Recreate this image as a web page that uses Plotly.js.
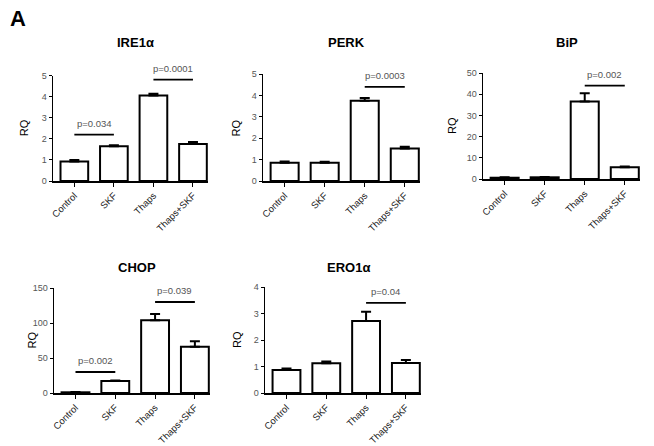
<!DOCTYPE html>
<html>
<head>
<meta charset="utf-8">
<script src="https://cdn.plot.ly/plotly-3.0.1.min.js"></script>
<style>html,body{margin:0;padding:0;background:#fff;}#chart{width:654px;height:446px;}</style>
</head>
<body>
<div id="chart"></div>
<script>
// ---- data ----
const categories = ['Control', 'SKF', 'Thaps', 'Thaps+SKF'];

const ire1aValues = [0.93, 1.65, 4.05, 1.75];
const ire1aErrors = [0.06, 0.05, 0.08, 0.10];

const perkValues = [0.85, 0.85, 3.75, 1.52];
const perkErrors = [0.06, 0.05, 0.13, 0.08];

const bipValues = [0.6, 0.8, 36.5, 5.5];
const bipErrors = [0.2, 0.2, 4.0, 0.4];

const chopValues = [1, 17, 104, 66];
const chopErrors = [0.5, 1, 9, 8];

const ero1aValues = [0.87, 1.12, 2.72, 1.13];
const ero1aErrors = [0.05, 0.07, 0.35, 0.12];

const panelTitles = ['IRE1\u03b1', 'PERK', 'BiP', 'CHOP', 'ERO1\u03b1'];
const yRanges = [[0, 5], [0, 5], [0, 50], [0, 150], [0, 4]];
const yTicks = [[0, 1, 2, 3, 4, 5], [0, 1, 2, 3, 4, 5], [0, 10, 20, 30, 40, 50], [0, 50, 100, 150], [0, 1, 2, 3, 4]];

// significance brackets
const sigPanels = [0, 0, 1, 2, 3, 3, 4];
const sigFrom = ['Control', 'Thaps', 'Thaps', 'Thaps', 'Control', 'Thaps', 'Thaps'];
const sigTo = ['SKF', 'Thaps+SKF', 'Thaps+SKF', 'Thaps+SKF', 'SKF', 'Thaps+SKF', 'Thaps+SKF'];
const sigY = [2.2, 4.8, 4.4, 44, 30, 130, 3.4];
const sigLabels = ['p=0.034', 'p=0.0001', 'p=0.0003', 'p=0.002', 'p=0.002', 'p=0.039', 'p=0.04'];

// ---- layout geometry (pixels) ----
const W = 654, H = 446;
const boxes = [
  {x0: 53, x1: 208, y0: 75.5, y1: 181},
  {x0: 263, x1: 420, y0: 74, y1: 181},
  {x0: 483, x1: 640, y0: 73, y1: 179},
  {x0: 54, x1: 210, y0: 288, y1: 393},
  {x0: 265, x1: 421, y0: 287, y1: 393}
];
const titleY = [42, 42, 42, 267, 267];
const rqX = [24, 235, 452, 31, 237];

const allValues = [ire1aValues, perkValues, bipValues, chopValues, ero1aValues];
const allErrors = [ire1aErrors, perkErrors, bipErrors, chopErrors, ero1aErrors];

const FONT = 'Liberation Sans, Arial, sans-serif';
const traces = [];
const layout = {
  width: W, height: H,
  margin: {l: 0, r: 0, t: 0, b: 0},
  paper_bgcolor: '#fff', plot_bgcolor: '#fff',
  showlegend: false,
  font: {family: FONT},
  annotations: [],
  shapes: []
};

allValues.forEach((vals, i) => {
  const n = i === 0 ? '' : String(i + 1);
  traces.push({
    type: 'bar',
    x: categories,
    y: vals,
    xaxis: 'x' + n,
    yaxis: 'y' + n,
    width: 0.7,
    marker: {color: '#ffffff', line: {color: '#000000', width: 2}},
    error_y: {type: 'data', symmetric: false, array: allErrors[i], arrayminus: vals.map(() => 0),
              color: '#000', thickness: 2, width: 5},
    hoverinfo: 'none'
  });
  const b = boxes[i];
  layout['xaxis' + n] = {
    domain: [b.x0 / W, b.x1 / W],
    anchor: 'y' + n,
    type: 'category',
    range: [-0.54, 3.38],
    showgrid: false, zeroline: false,
    showline: true, linecolor: '#000', linewidth: 1.5,
    ticks: 'outside', ticklen: 4, tickcolor: '#000', tickwidth: 1,
    tickangle: -45,
    tickfont: {family: FONT, size: 9.5, color: '#222'},
    fixedrange: true
  };
  layout['yaxis' + n] = {
    domain: [1 - b.y1 / H, 1 - b.y0 / H],
    anchor: 'x' + n,
    range: yRanges[i],
    tickvals: yTicks[i],
    showgrid: false, zeroline: false,
    showline: true, linecolor: '#000', linewidth: 1.5,
    ticks: 'outside', ticklen: 3, tickcolor: '#000', tickwidth: 1,
    tickfont: {family: FONT, size: 9, color: '#555'},
    fixedrange: true
  };
  layout.annotations.push({
    text: '<b>' + panelTitles[i] + '</b>',
    xref: 'paper', yref: 'paper',
    x: (b.x0 + b.x1) / 2 / W + 5 / W, y: 1 - titleY[i] / H,
    xanchor: 'center', yanchor: 'middle', showarrow: false,
    font: {family: FONT, size: 13, color: '#000'}
  });
  layout.annotations.push({
    text: 'RQ',
    xref: 'paper', yref: 'paper',
    x: rqX[i] / W, y: 1 - (b.y0 + b.y1) / 2 / H,
    xanchor: 'center', yanchor: 'middle', showarrow: false, textangle: -90,
    font: {family: FONT, size: 11, color: '#000'}
  });
});

sigPanels.forEach((p, k) => {
  const n = p === 0 ? '' : String(p + 1);
  const span = yRanges[p][1] - yRanges[p][0];
  const i0 = categories.indexOf(sigFrom[k]);
  const i1 = categories.indexOf(sigTo[k]);
  layout.shapes.push({
    type: 'line', xref: 'x' + n, yref: 'y' + n,
    x0: i0, x1: i1, y0: sigY[k], y1: sigY[k],
    line: {color: '#000', width: 1.8}
  });
  layout.annotations.push({
    text: sigLabels[k], xref: 'x' + n, yref: 'y' + n,
    x: (i0 + i1) / 2, y: sigY[k] + span * 0.035,
    xanchor: 'center', yanchor: 'bottom', showarrow: false,
    font: {family: FONT, size: 9.5, color: '#555'}
  });
});

layout.annotations.push({
  text: '<b>A</b>', xref: 'paper', yref: 'paper',
  x: 8 / W, y: 1 - 18 / H, xanchor: 'left', yanchor: 'middle', showarrow: false,
  font: {family: FONT, size: 22, color: '#000'}
});

Plotly.newPlot('chart', traces, layout, {staticPlot: true, displayModeBar: false});
</script>
</body>
</html>
